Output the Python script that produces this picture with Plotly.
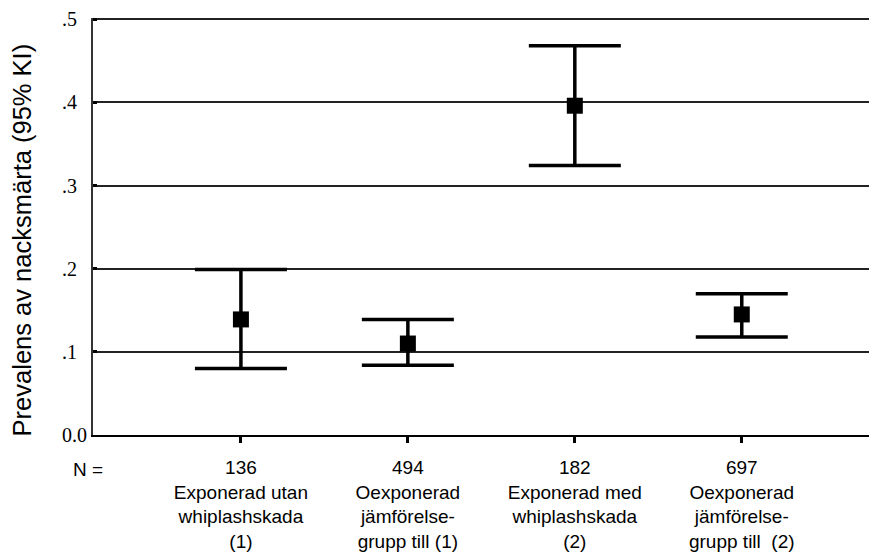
import plotly.graph_objects as go

groups = ["136<br>Exponerad utan<br>whiplashskada<br>(1)",
          "494<br>Oexponerad<br>jämförelse-<br>grupp till (1)",
          "182<br>Exponerad med<br>whiplashskada<br>(2)",
          "697<br>Oexponerad<br>jämförelse-<br>grupp till  (2)"]
positions = [0, 1, 2, 3]
prevalence = [0.139, 0.110, 0.396, 0.145]
ci_upper = [0.199, 0.139, 0.468, 0.170]
ci_lower = [0.080, 0.084, 0.324, 0.118]
y_ticks = [0.0, 0.1, 0.2, 0.3, 0.4, 0.5]
y_ticktext = ["0.0", ".1\u2002", ".2\u2002", ".3\u2002", ".4\u2002", ".5\u2002"]
y_title = "Prevalens av nacksmärta (95% KI)"

err_plus = [u - m for u, m in zip(ci_upper, prevalence)]
err_minus = [m - l for l, m in zip(ci_lower, prevalence)]

fig = go.Figure()
fig.add_trace(go.Scatter(
    x=positions, y=prevalence, mode="markers",
    marker=dict(symbol="square", size=16, color="black"),
    error_y=dict(type="data", symmetric=False, array=err_plus, arrayminus=err_minus,
                 color="black", thickness=3.5, width=46),
    showlegend=False, hoverinfo="skip",
))

fig.add_annotation(text="N =", xref="paper", yref="paper", x=-0.006, y=-0.082,
                   xanchor="center", yanchor="middle", showarrow=False,
                   font=dict(family="Liberation Sans, Arial", size=19, color="black"))

fig.add_annotation(text=y_title, xref="paper", yref="paper", x=-0.0906, y=0.469,
                   xanchor="center", yanchor="middle", showarrow=False, textangle=-90,
                   font=dict(family="Liberation Sans, Arial", size=25.5, color="black"))

fig.update_layout(
    width=869, height=552,
    margin=dict(l=85, r=0, t=10, b=125),
    plot_bgcolor="white", paper_bgcolor="white",
    xaxis=dict(range=[-0.886, 3.81], tickvals=positions, ticktext=groups,
               showgrid=False, zeroline=False, showline=True, linecolor="black",
               linewidth=2, ticks="outside", ticklen=6, tickwidth=3, tickcolor="black",
               ticklabelstandoff=8,
               tickfont=dict(family="Liberation Sans, Arial", size=19, color="black")),
    yaxis=dict(range=[0, 0.5015], tickvals=y_ticks, ticktext=y_ticktext,
               showgrid=True, gridcolor="#222", gridwidth=1.5, zeroline=False,
               showline=True, linecolor="#333", linewidth=2,
               ticks="inside", ticklen=4, tickwidth=3, tickcolor="black",
               tickfont=dict(family="Liberation Serif, Times New Roman", size=20, color="black")),
)

fig.write_html("out.html")
